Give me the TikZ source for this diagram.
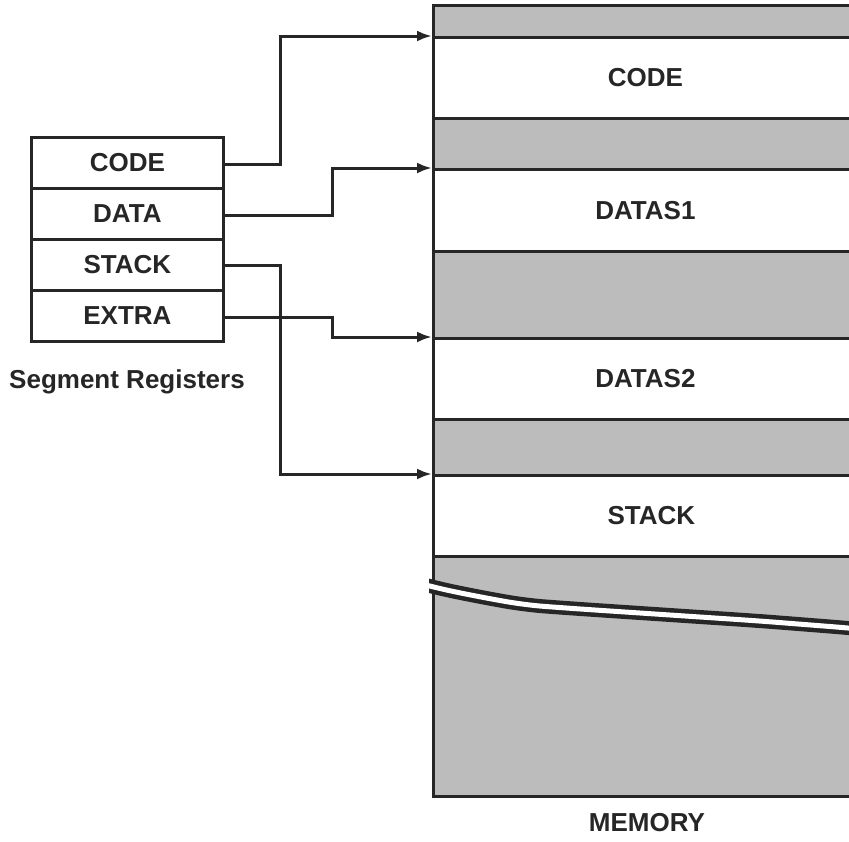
\documentclass[tikz,border=0pt]{standalone}
\usepackage{fontspec}
\setmainfont{Liberation Sans}
\usetikzlibrary{arrows.meta}
\definecolor{shade}{RGB}{188,188,188}
\definecolor{ink}{RGB}{38,38,38}
\begin{document}
\begin{tikzpicture}[x=1pt,y=-1pt,
  lbl/.style={font=\fontsize{26}{28}\selectfont\bfseries, text=ink},
  seg/.style={draw=ink, line width=2.8pt, minimum width=424pt, inner sep=0pt,
    anchor=north west, lbl, text width=400pt, align=center},
  shadeseg/.style={seg, fill=shade},
  reg/.style={draw=ink, line width=2.8pt, minimum width=192pt, minimum height=51pt,
    inner sep=0pt, anchor=north west, lbl},
  conn/.style={draw=ink, line width=3pt, -{Latex[length=15pt,width=11pt]}}]
\useasboundingbox (0,0) rectangle (849,841);
\clip (0,0) rectangle (849,841);
\fill[white] (0,0) rectangle (849,841);

% memory segments
\node[shadeseg, minimum height=32pt] (s0) at (432,4) {};
\node[seg, minimum height=81pt] (mcode) at (432,36) {CODE};
\node[shadeseg, minimum height=51pt] (s1) at (432,117) {};
\node[seg, minimum height=82pt] (mdata1) at (432,168) {DATAS1};
\node[shadeseg, minimum height=87pt] (s2) at (432,250) {};
\node[seg, minimum height=81pt] (mdata2) at (432,337) {DATAS2};
\node[shadeseg, minimum height=56pt] (s3) at (432,418) {};
\node[seg, minimum height=81pt] (mstack) at (432,474) {\hspace*{12pt}STACK};
\node[shadeseg, minimum height=240pt] (s4) at (432,555) {};

% tear
\begin{scope}
  \clip (s4.north west) ++(-3,0) rectangle (s4.south east);
  \draw[ink, line width=14pt, line join=round, rounded corners=20pt]
    (425,585) -- (432,587) -- (475,596) -- (525,605) -- (580,609) -- (640,613)
    -- (700,617) -- (760,621) -- (849,628) -- (880,631);
  \draw[white, line width=5pt, line join=round, rounded corners=20pt]
    (425,585) -- (432,587) -- (475,596) -- (525,605) -- (580,609) -- (640,613)
    -- (700,617) -- (760,621) -- (849,628) -- (880,631);
\end{scope}

\node[lbl] (memlabel) at (647,823) {MEMORY};

% registers
\node[reg] (rcode) at (30,136) {CODE};
\node[reg] (rdata) at (30,187) {DATA};
\node[reg] (rstack) at (30,238) {STACK};
\node[reg] (rextra) at (30,289) {EXTRA};
\node[lbl] (reglabel) at (127,382) {Segment Registers};

\coordinate (xa) at (280,0);
\coordinate (xb) at (332,0);

\draw[conn] ([yshift=-2pt]rcode.east) -- ([yshift=-2pt]rcode.east -| xa) |- (mcode.north west);
\draw[conn] ([yshift=-2pt]rdata.east) -- ([yshift=-2pt]rdata.east -| xb) |- (mdata1.north west);
\draw[conn] ([yshift=-1pt]rstack.east) -- ([yshift=-1pt]rstack.east -| xa) |- (mstack.north west);
\draw[conn] ([yshift=-2pt]rextra.east) -- ([yshift=-2pt]rextra.east -| xb) |- (mdata2.north west);
\end{tikzpicture}
\end{document}
